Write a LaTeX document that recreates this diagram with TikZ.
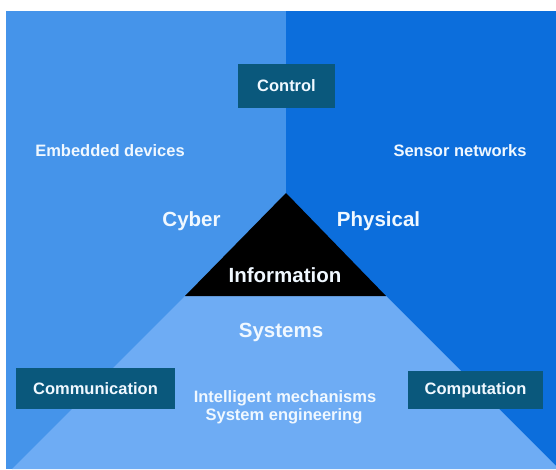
\documentclass[tikz,border=0pt]{standalone}
\usepackage{fontspec}
\setmainfont{Liberation Sans}
\usepackage{xcolor}

\begin{document}
\begin{tikzpicture}[x=1pt,y=1pt,
  lbl/.style={text=textColor,anchor=base,inner sep=0pt,outer sep=0pt,font=\bfseries\fontsize{16.5}{19}\selectfont},
  biglbl/.style={lbl,font=\bfseries\fontsize{20.5}{24}\selectfont},
  boxlbl/.style={fill=boxColor,text=textColor,inner sep=0pt,outer sep=0pt,font=\bfseries\fontsize{16.5}{19}\selectfont}]
\definecolor{fillColor}{RGB}{255,255,255}
\definecolor{leftColor}{RGB}{69,148,234}
\definecolor{rightColor}{RGB}{12,110,220}
\definecolor{bottomColor}{RGB}{110,172,244}
\definecolor{boxColor}{RGB}{10,88,124}
\definecolor{textColor}{RGB}{240,248,255}
\path[use as bounding box,fill=fillColor] (0,0) rectangle (556,469);

% three sectors
\path[fill=leftColor] (6,0) rectangle (286,458);
\path[fill=rightColor] (286,0) rectangle (556,458);
\path[fill=bottomColor] (185,173) -- (386,173) -- (556,3) --
	(556,0) -- (12,0) -- cycle;
\path[fill=black] (286,276) -- (386,173) -- (185,173) -- cycle;

% boxes
\node[boxlbl,minimum width=97,minimum height=44] (control) at (286.5,383) {Control};
\node[boxlbl,minimum width=159,minimum height=41] (communication) at (95.5,80.5) {Communication};
\node[boxlbl,minimum width=135,minimum height=38] (computation) at (475.5,79) {Computation};

% labels
\node[lbl] (embedded) at (110,312) {Embedded devices};
\node[lbl] (sensor) at (460,312) {Sensor networks};
\node[biglbl] (cyber) at (191.5,243) {Cyber};
\node[biglbl] (physical) at (378.5,243) {Physical};
\node[biglbl] (information) at (285,187) {Information};
\node[biglbl] (systems) at (281,132) {Systems};
\node[lbl] (intelligent) at (285,67) {Intelligent mechanisms};
\node[lbl] (engineering) at (284,49) {System engineering};
\end{tikzpicture}
\end{document}
